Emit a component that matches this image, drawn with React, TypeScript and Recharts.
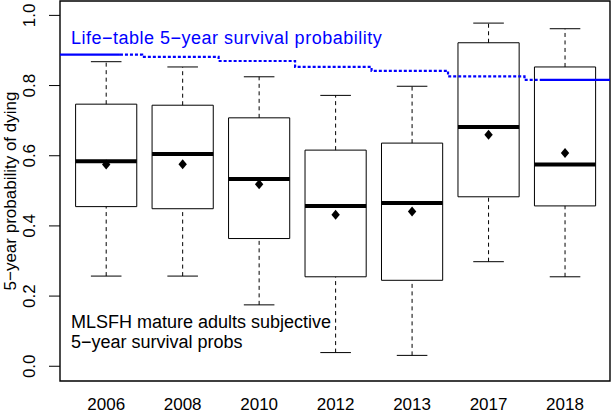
import { ComposedChart, XAxis, YAxis, Scatter, Line, ReferenceArea, ReferenceLine } from 'recharts'

const FONT = '"Liberation Sans", Arial, Helvetica, sans-serif'

// one entry per survey year
const years = ['2006', '2008', '2010', '2012', '2013', '2017', '2018']
const lowerWhisker = [0.257, 0.257, 0.175, 0.039, 0.031, 0.298, 0.255]
const q1 = [0.455, 0.449, 0.364, 0.255, 0.245, 0.483, 0.457]
const median = [0.584, 0.605, 0.534, 0.457, 0.465, 0.682, 0.575]
const q3 = [0.747, 0.744, 0.708, 0.616, 0.636, 0.922, 0.853]
const upperWhisker = [0.868, 0.853, 0.825, 0.772, 0.798, 0.978, 0.962]
const means = [0.575, 0.576, 0.519, 0.432, 0.441, 0.66, 0.608]
const lifeTable = [0.888, 0.882, 0.87, 0.853, 0.842, 0.826, 0.816]
const yTicks = [0, 0.2, 0.4, 0.6, 0.8, 1.0]

const xMin = 0.396
const xMax = 7.588
const yMin = -0.042
const yMax = 1.041
const boxHalf = 0.4
const capHalf = 0.2
const stepShift = 0.47
const dottedFrom = 1.18
const dottedTo = 6.67

const xTicks = years.map((_, i) => i + 1)
const meanPoints = means.map((m, i) => ({ x: i + 1, y: m }))

const lifeStart = [
  { x: xMin, y: lifeTable[0] },
  { x: dottedFrom, y: lifeTable[0] },
]
const lifeDotted = [
  { x: dottedFrom, y: lifeTable[0] },
  ...lifeTable.slice(1).map((v, i) => ({ x: i + 1 + stepShift, y: v })),
  { x: dottedTo, y: lifeTable[lifeTable.length - 1] },
]
const lifeEnd = [
  { x: dottedTo, y: lifeTable[lifeTable.length - 1] },
  { x: xMax, y: lifeTable[lifeTable.length - 1] },
]

const Diamond = (props: any) => {
  const { cx, cy } = props
  return <polygon points={`${cx},${cy - 5} ${cx + 4.2},${cy} ${cx},${cy + 5} ${cx - 4.2},${cy}`} fill="#000" />
}

const YTick = ({ x, y, payload }: any) => {
  const bx = x - 14
  return (
    <text x={bx} y={y} transform={`rotate(-90 ${bx} ${y})`} textAnchor="middle" fontSize={17} fontFamily={FONT} fill="#000">
      {Number(payload.value).toFixed(1)}
    </text>
  )
}

const XTick = ({ x, y, payload }: any) => (
  <text x={x} y={y + 29} textAnchor="middle" fontSize={17} fontFamily={FONT} fill="#000">
    {years[payload.value - 1]}
  </text>
)

export default function App() {
  return (
    <div style={{ position: 'absolute', left: 0, top: 0, width: 612, height: 414, background: '#fff' }}>
      <ComposedChart width={612} height={414} margin={{ top: 1, right: 2, bottom: 0, left: 0 }}>
        <XAxis
          dataKey="x"
          type="number"
          domain={[xMin, xMax]}
          allowDataOverflow
          ticks={xTicks}
          tick={<XTick />}
          tickLine={false}
          tickSize={0}
          tickMargin={0}
          axisLine={false}
          height={33}
        />
        <YAxis
          dataKey="y"
          type="number"
          domain={[yMin, yMax]}
          allowDataOverflow
          ticks={yTicks}
          tick={<YTick />}
          tickLine={{ stroke: '#000', strokeWidth: 1 }}
          tickSize={11}
          tickMargin={0}
          axisLine={false}
          width={60}
        />

        {years.map((_, i) => (
          <ReferenceLine
            key={`uw${i}`}
            segment={[{ x: i + 1, y: q3[i] }, { x: i + 1, y: upperWhisker[i] }]}
            stroke="#000"
            strokeDasharray="4 3.5"
            ifOverflow="visible"
          />
        ))}
        {years.map((_, i) => (
          <ReferenceLine
            key={`lw${i}`}
            segment={[{ x: i + 1, y: lowerWhisker[i] }, { x: i + 1, y: q1[i] }]}
            stroke="#000"
            strokeDasharray="4 3.5"
            ifOverflow="visible"
          />
        ))}
        {years.map((_, i) => (
          <ReferenceLine
            key={`uc${i}`}
            segment={[{ x: i + 1 - capHalf, y: upperWhisker[i] }, { x: i + 1 + capHalf, y: upperWhisker[i] }]}
            stroke="#000"
            ifOverflow="visible"
          />
        ))}
        {years.map((_, i) => (
          <ReferenceLine
            key={`lc${i}`}
            segment={[{ x: i + 1 - capHalf, y: lowerWhisker[i] }, { x: i + 1 + capHalf, y: lowerWhisker[i] }]}
            stroke="#000"
            ifOverflow="visible"
          />
        ))}
        {years.map((_, i) => (
          <ReferenceArea
            key={`box${i}`}
            x1={i + 1 - boxHalf}
            x2={i + 1 + boxHalf}
            y1={q1[i]}
            y2={q3[i]}
            fill="none"
            stroke="#000"
            strokeWidth={1}
            ifOverflow="visible"
          />
        ))}
        {years.map((_, i) => (
          <ReferenceLine
            key={`med${i}`}
            segment={[{ x: i + 1 - boxHalf, y: median[i] }, { x: i + 1 + boxHalf, y: median[i] }]}
            stroke="#000"
            strokeWidth={4}
            ifOverflow="visible"
          />
        ))}

        <ReferenceArea x1={xMin} x2={xMax} y1={yMin} y2={yMax} fill="none" stroke="#000" strokeWidth={1.4} ifOverflow="visible" />

        <Line data={lifeStart} dataKey="y" type="linear" stroke="#0000ff" strokeWidth={2.2} dot={false} isAnimationActive={false} />
        <Line data={lifeDotted} dataKey="y" type="stepAfter" stroke="#0000ff" strokeWidth={2.2} strokeDasharray="3 2" dot={false} isAnimationActive={false} />
        <Line data={lifeEnd} dataKey="y" type="linear" stroke="#0000ff" strokeWidth={2.2} dot={false} isAnimationActive={false} />

        <Scatter data={meanPoints} dataKey="y" shape={<Diamond />} isAnimationActive={false} />
      </ComposedChart>

      <svg width={612} height={414} style={{ position: 'absolute', left: 0, top: 0, pointerEvents: 'none' }}>
        <text x={16} y={191} transform="rotate(-90 16 191)" textAnchor="middle" fontSize={17} fontFamily={FONT} fill="#000">
          5−year probability of dying
        </text>
        <text x={71} y={44} fontSize={18} letterSpacing={0.5} fontFamily={FONT} fill="#0000ff">
          Life−table 5−year survival probability
        </text>
        <text x={71} y={328} fontSize={18} fontFamily={FONT} fill="#000">
          MLSFH mature adults subjective
        </text>
        <text x={71} y={348} fontSize={18} fontFamily={FONT} fill="#000">
          5−year survival probs
        </text>
      </svg>
    </div>
  )
}
